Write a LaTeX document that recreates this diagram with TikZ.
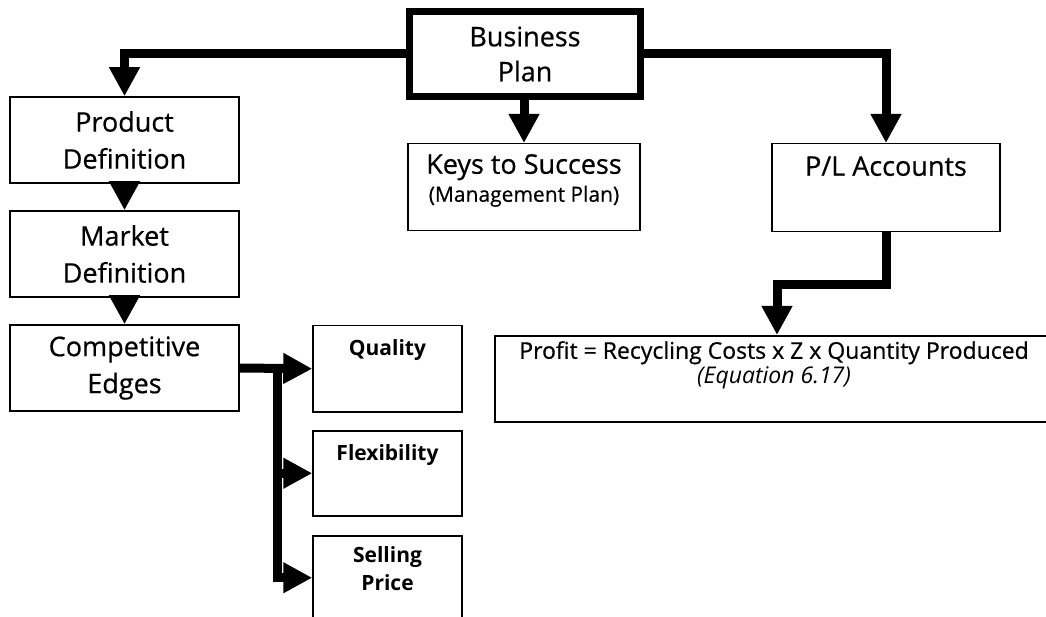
\documentclass[tikz,border=0pt]{standalone}
\usepackage{fontspec}
\setmainfont{Open Sans}[UprightFeatures={FakeBold=0.6}]
\usetikzlibrary{positioning}
\usetikzlibrary{arrows.meta}
\tikzset{
    mybox/.style = {rectangle, draw=black, line width=1.5pt, align=center, inner sep=0pt, font=\fontsize{27}{37}\selectfont, text=black},
    mybig/.style = {mybox, line width=7pt, font=\fontsize{27}{35}\selectfont},
    mytop/.style = {mybox, anchor=north, text height=#1},
    mysub/.style = {mytop=#1, font=\bfseries\fontsize{21}{28}\selectfont},
    edgen/.style = {-{Triangle[length=29pt,width=29pt]}, line width=9pt, black},
    edgep/.style = {line width=9pt, black}
}

\begin{document}
\begin{tikzpicture}[x=1pt, y=-1pt]
  \useasboundingbox (0,0) rectangle (1046,617);
  \clip (0,0) rectangle (1046,617);

  % top
  \node[mybig, minimum width=231pt, minimum height=85pt] (bp) at (525,54) {Business\\Plan};
  \node[mytop=58pt, minimum width=232pt, text depth=29pt] (ks) at (524,143)
    {Keys to Success\\[-9pt]{\fontsize{21}{25}\selectfont (Management Plan)}};
  \node[mytop=32pt, minimum width=228pt, text depth=56pt] (pl) at (886,143) {P/L Accounts};
  \node[mytop=48pt, minimum width=558pt, text depth=38pt, font=\fontsize{23}{25}\selectfont] (pf) at (774,335)
    {Profit = Recycling Costs x Z x Quantity Produced\\\textit{(Equation 6.17)}};

  % left column
  \node[mybox, minimum width=229pt, minimum height=86pt] (pd) at (124.5,140) {Product\\Definition};
  \node[mybox, minimum width=229pt, minimum height=86pt] (md) at (124.5,254) {Market\\Definition};
  \node[mybox, minimum width=229pt, minimum height=86pt] (ce) at (124.5,368) {Competitive\\Edges};

  % competitive edges
  \node[mysub=30pt, minimum width=149pt, text depth=56pt] (q) at (387.5,325) {Quality};
  \node[mysub=30pt, minimum width=149pt, text depth=55pt] (fl) at (387.5,430) {Flexibility};
  \node[mysub=55pt, minimum width=149pt, text depth=29pt] (sp) at (387.5,535) {Selling\\Price};

  \draw[edgen] (bp.west) -| (pd.north);
  \draw[edgen] (bp.east) -| (pl.north);
  \draw[edgen] (bp.south -| ks.north) -- (ks.north);
  \draw[edgen] (pl.south) -- ++(0,52) -| ([xshift=3pt]pf.north);
  \draw[edgen] (pd.south) -- (md.north);
  \draw[edgen] (md.south) -- (ce.north);

  \coordinate (split) at (277,368);
  \draw[edgen] (ce.east) -- (q.west);
  \draw[edgep] (split) |- ([xshift=-30pt]sp.west);
  \draw[edgen] (split |- fl.west) -- (fl.west);
  \draw[edgen] (split |- sp.west) -- (sp.west);
\end{tikzpicture}
\end{document}
